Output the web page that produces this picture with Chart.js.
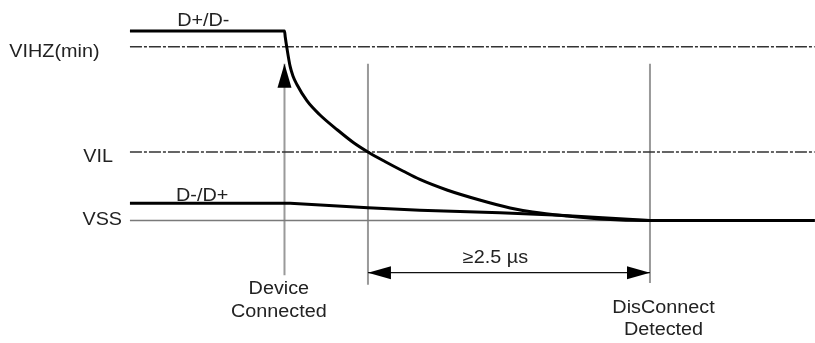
<!DOCTYPE html>
<html>
<head>
<meta charset="utf-8">
<script src="https://cdn.jsdelivr.net/npm/chart.js@4/dist/chart.umd.min.js"></script>
<style>
  html, body { margin: 0; padding: 0; background: #fff; }
  #wrap { width: 815px; height: 343px; }
</style>
</head>
<body>
<div id="wrap"><canvas id="timing"></canvas></div>
<script>
// time in µs (0 = D+/D- crosses VIL), level in V (not to scale)
const tHigh = [-2.11, -0.74, -0.733, -0.72, -0.69, -0.665, -0.63, -0.54, -0.43, -0.27, -0.13, 0, 0.15, 0.31, 0.46, 0.70, 0.99, 1.26, 1.46, 1.76, 2.06, 2.5, 3.96];
const vHigh = [2.213, 2.213, 2.14, 2.026, 1.799, 1.688, 1.588, 1.396, 1.238, 1.057, 0.911, 0.80, 0.689, 0.578, 0.479, 0.356, 0.239, 0.146, 0.099, 0.053, 0.018, 0, 0];
const tLow = [-2.11, -0.69, 0, 0.46, 1.17, 1.70, 2.5, 3.96];
const vLow = [0.20, 0.20, 0.15, 0.12, 0.09, 0.06, 0, 0];

const levelNames = ['VIHZ(min)', 'VIL', 'VSS'];
const levelValues = [2.03, 0.8, 0];
const tFrom = -2.11;
const tTo = 3.96;

// event markers: device connected, window start, disconnect detected
const eventTimes = [-0.74, 0, 2.5];
const eventTop = [1.83, 1.83, 1.83];
const eventBottom = [-0.64, -0.75, -0.73];

const windowLevel = -0.61;
const windowLabel = '\u22652.5 \u00b5s';

// text: [text, t, v, align]
const notes = [
  ['D+/D-', -1.46, 2.33, 'center'],
  ['D-/D+', -1.47, 0.28, 'center'],
  ['VIHZ(min)', -2.38, 1.97, 'right'],
  ['VIL', -2.26, 0.74, 'right'],
  ['VSS', -2.18, 0.01, 'right'],
  [windowLabel, 1.13, -0.44, 'center'],
  ['Device', -0.79, -0.80, 'center'],
  ['Connected', -0.79, -1.07, 'center'],
  ['DisConnect', 2.62, -1.02, 'center'],
  ['Detected', 2.62, -1.28, 'center'],
];

const pts = (xs, ys) => xs.map((x, i) => ({ x, y: ys[i] }));

const datasets = [
  {
    data: pts(tHigh, vHigh),
    borderColor: '#000', borderWidth: 3,
    cubicInterpolationMode: 'monotone', order: 0,
  },
  {
    data: pts(tLow, vLow),
    borderColor: '#000', borderWidth: 3, tension: 0, order: 0,
  },
];

levelValues.forEach((v, i) => {
  const solid = levelNames[i] === 'VSS';
  datasets.push({
    data: [{ x: tFrom, y: v }, { x: tTo, y: v }],
    borderColor: solid ? '#7a7a7a' : '#333',
    borderWidth: 1.5,
    borderDash: solid ? [] : [12, 2, 3, 2],
    order: 1,
  });
});

eventTimes.forEach((t, i) => {
  datasets.push({
    data: [{ x: t, y: eventTop[i] }, { x: t, y: eventBottom[i] }],
    borderColor: '#9a9a9a', borderWidth: 2, order: 2,
  });
});

datasets.push({
  data: [{ x: eventTimes[1], y: windowLevel }, { x: eventTimes[2], y: windowLevel }],
  borderColor: '#111', borderWidth: 1.2, order: 1,
});

function tri(ctx, a, b, c) {
  ctx.beginPath();
  ctx.moveTo(a[0], a[1]);
  ctx.lineTo(b[0], b[1]);
  ctx.lineTo(c[0], c[1]);
  ctx.closePath();
  ctx.fill();
}

const decorations = {
  id: 'decorations',
  afterDatasetsDraw(chart) {
    const { ctx, scales: { x, y } } = chart;
    ctx.save();
    ctx.fillStyle = '#000';

    // up arrow at device connected
    const ax = x.getPixelForValue(eventTimes[0]);
    const ay = y.getPixelForValue(eventTop[0]);
    tri(ctx, [ax, ay], [ax - 7, ay + 24], [ax + 7, ay + 24]);

    // double arrow for the window
    const wy = y.getPixelForValue(windowLevel);
    const x1 = x.getPixelForValue(eventTimes[1]);
    const x2 = x.getPixelForValue(eventTimes[2]);
    tri(ctx, [x1, wy], [x1 + 23, wy - 6.5], [x1 + 23, wy + 6.5]);
    tri(ctx, [x2, wy], [x2 - 23, wy - 6.5], [x2 - 23, wy + 6.5]);

    ctx.fillStyle = '#222';
    ctx.font = '18px "Liberation Sans", Arial, sans-serif';
    ctx.textBaseline = 'middle';
    notes.forEach(([text, t, v, align]) => {
      const px = x.getPixelForValue(t);
      const py = y.getPixelForValue(v);
      const w = ctx.measureText(text).width * 1.1;
      let left = px - w / 2;
      if (align === 'right') left = px - w;
      ctx.save();
      ctx.translate(left, py);
      ctx.scale(1.1, 1);
      ctx.textAlign = 'left';
      ctx.fillText(text, 0, 0);
      ctx.restore();
    });
    ctx.restore();
  },
};

new Chart(document.getElementById('timing'), {
  type: 'line',
  data: { datasets },
  options: {
    responsive: true,
    maintainAspectRatio: false,
    animation: false,
    events: [],
    layout: { padding: 0 },
    elements: { point: { radius: 0 }, line: { fill: false } },
    plugins: { legend: { display: false }, tooltip: { enabled: false } },
    scales: {
      x: { type: 'linear', min: -3.262, max: 3.963, display: false },
      y: { type: 'linear', min: -1.431, max: 2.575, display: false },
    },
  },
  plugins: [decorations],
});
</script>
</body>
</html>
